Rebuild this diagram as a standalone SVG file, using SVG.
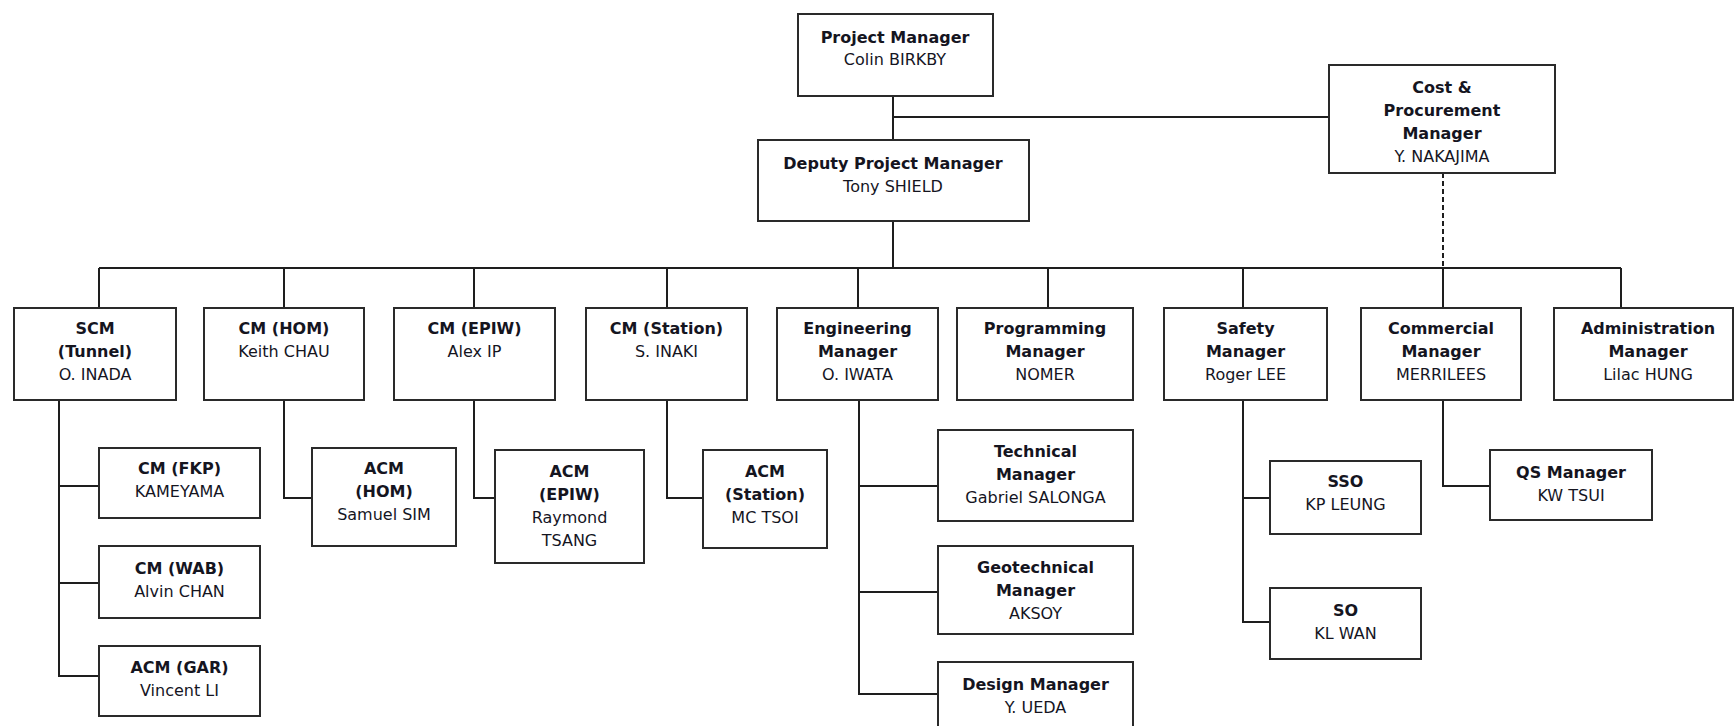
<svg xmlns="http://www.w3.org/2000/svg" width="1735" height="726" viewBox="0 0 1735 726">
<style>
.box{fill:#fff;stroke:#2a2a2a;stroke-width:2}
.ln{fill:none;stroke:#1e1e1e;stroke-width:2}
.dash{fill:none;stroke:#1e1e1e;stroke-width:2;stroke-dasharray:5 3}
text{font-family:"DejaVu Sans",Verdana,sans-serif;font-size:16px;fill:#15151f;text-anchor:middle}
.b{font-weight:bold}
</style>
<rect width="1735" height="726" fill="#fff"/>
<g id="connectors">
<path class="ln" d="M893 96V140M893 117H1329M893 221V268M99 268H1621"/>
<path class="ln" d="M99 268V308M284 268V308M474 268V308M667 268V308M858 268V308M1048 268V308M1243 268V308M1443 268V308M1621 268V308"/>
<path class="dash" d="M1443 173V268"/>
<path class="ln" d="M59 400V676H99M59 486H99M59 583H99"/>
<path class="ln" d="M284 400V498H312"/>
<path class="ln" d="M474 400V498H495"/>
<path class="ln" d="M667 400V498H703"/>
<path class="ln" d="M859 400V694H938M859 486H938M859 592H938"/>
<path class="ln" d="M1243 400V622H1270M1243 498H1270"/>
<path class="ln" d="M1443 400V486H1490"/>
</g>
<g id="pm"><rect class="box" x="798" y="14" width="195" height="82"/><text x="895" y="43" class="b">Project Manager</text><text x="895" y="65">Colin BIRKBY</text></g>
<g id="cpm"><rect class="box" x="1329" y="65" width="226" height="108"/><text x="1442" y="93" class="b">Cost &amp;</text><text x="1442" y="116" class="b">Procurement</text><text x="1442" y="139" class="b">Manager</text><text x="1442" y="162">Y. NAKAJIMA</text></g>
<g id="dpm"><rect class="box" x="758" y="140" width="271" height="81"/><text x="893" y="169" class="b">Deputy Project Manager</text><text x="893" y="192">Tony SHIELD</text></g>
<g id="scm"><rect class="box" x="14" y="308" width="162" height="92"/><text x="95" y="334" class="b">SCM</text><text x="95" y="357" class="b">(Tunnel)</text><text x="95" y="380">O. INADA</text></g>
<g id="cm-hom"><rect class="box" x="204" y="308" width="160" height="92"/><text x="284" y="334" class="b">CM (HOM)</text><text x="284" y="357">Keith CHAU</text></g>
<g id="cm-epiw"><rect class="box" x="394" y="308" width="161" height="92"/><text x="474.5" y="334" class="b">CM (EPIW)</text><text x="474.5" y="357">Alex IP</text></g>
<g id="cm-station"><rect class="box" x="586" y="308" width="161" height="92"/><text x="666.5" y="334" class="b">CM (Station)</text><text x="666.5" y="357">S. INAKI</text></g>
<g id="eng"><rect class="box" x="777" y="308" width="161" height="92"/><text x="857.5" y="334" class="b">Engineering</text><text x="857.5" y="357" class="b">Manager</text><text x="857.5" y="380">O. IWATA</text></g>
<g id="prog"><rect class="box" x="957" y="308" width="176" height="92"/><text x="1045" y="334" class="b">Programming</text><text x="1045" y="357" class="b">Manager</text><text x="1045" y="380">NOMER</text></g>
<g id="safety"><rect class="box" x="1164" y="308" width="163" height="92"/><text x="1245.5" y="334" class="b">Safety</text><text x="1245.5" y="357" class="b">Manager</text><text x="1245.5" y="380">Roger LEE</text></g>
<g id="comm"><rect class="box" x="1361" y="308" width="160" height="92"/><text x="1441" y="334" class="b">Commercial</text><text x="1441" y="357" class="b">Manager</text><text x="1441" y="380">MERRILEES</text></g>
<g id="admin"><rect class="box" x="1554" y="308" width="179" height="92"/><text x="1648" y="334" class="b">Administration</text><text x="1648" y="357" class="b">Manager</text><text x="1648" y="380">Lilac HUNG</text></g>
<g id="cm-fkp"><rect class="box" x="99" y="448" width="161" height="70"/><text x="179.5" y="474" class="b">CM (FKP)</text><text x="179.5" y="497">KAMEYAMA</text></g>
<g id="cm-wab"><rect class="box" x="99" y="546" width="161" height="72"/><text x="179.5" y="574" class="b">CM (WAB)</text><text x="179.5" y="597">Alvin CHAN</text></g>
<g id="acm-gar"><rect class="box" x="99" y="646" width="161" height="70"/><text x="179.5" y="673" class="b">ACM (GAR)</text><text x="179.5" y="696">Vincent LI</text></g>
<g id="acm-hom"><rect class="box" x="312" y="448" width="144" height="98"/><text x="384" y="474" class="b">ACM</text><text x="384" y="497" class="b">(HOM)</text><text x="384" y="520">Samuel SIM</text></g>
<g id="acm-epiw"><rect class="box" x="495" y="450" width="149" height="113"/><text x="569.5" y="477" class="b">ACM</text><text x="569.5" y="500" class="b">(EPIW)</text><text x="569.5" y="523">Raymond</text><text x="569.5" y="546">TSANG</text></g>
<g id="acm-station"><rect class="box" x="703" y="450" width="124" height="98"/><text x="765" y="477" class="b">ACM</text><text x="765" y="500" class="b">(Station)</text><text x="765" y="523">MC TSOI</text></g>
<g id="tech"><rect class="box" x="938" y="430" width="195" height="91"/><text x="1035.5" y="457" class="b">Technical</text><text x="1035.5" y="480" class="b">Manager</text><text x="1035.5" y="503">Gabriel SALONGA</text></g>
<g id="geo"><rect class="box" x="938" y="546" width="195" height="88"/><text x="1035.5" y="573" class="b">Geotechnical</text><text x="1035.5" y="596" class="b">Manager</text><text x="1035.5" y="619">AKSOY</text></g>
<g id="design"><rect class="box" x="938" y="662" width="195" height="80"/><text x="1035.5" y="690" class="b">Design Manager</text><text x="1035.5" y="713">Y. UEDA</text></g>
<g id="sso"><rect class="box" x="1270" y="461" width="151" height="73"/><text x="1345.5" y="487" class="b">SSO</text><text x="1345.5" y="510">KP LEUNG</text></g>
<g id="so"><rect class="box" x="1270" y="588" width="151" height="71"/><text x="1345.5" y="616" class="b">SO</text><text x="1345.5" y="639">KL WAN</text></g>
<g id="qs"><rect class="box" x="1490" y="450" width="162" height="70"/><text x="1571" y="478" class="b">QS Manager</text><text x="1571" y="501">KW TSUI</text></g>
</svg>
